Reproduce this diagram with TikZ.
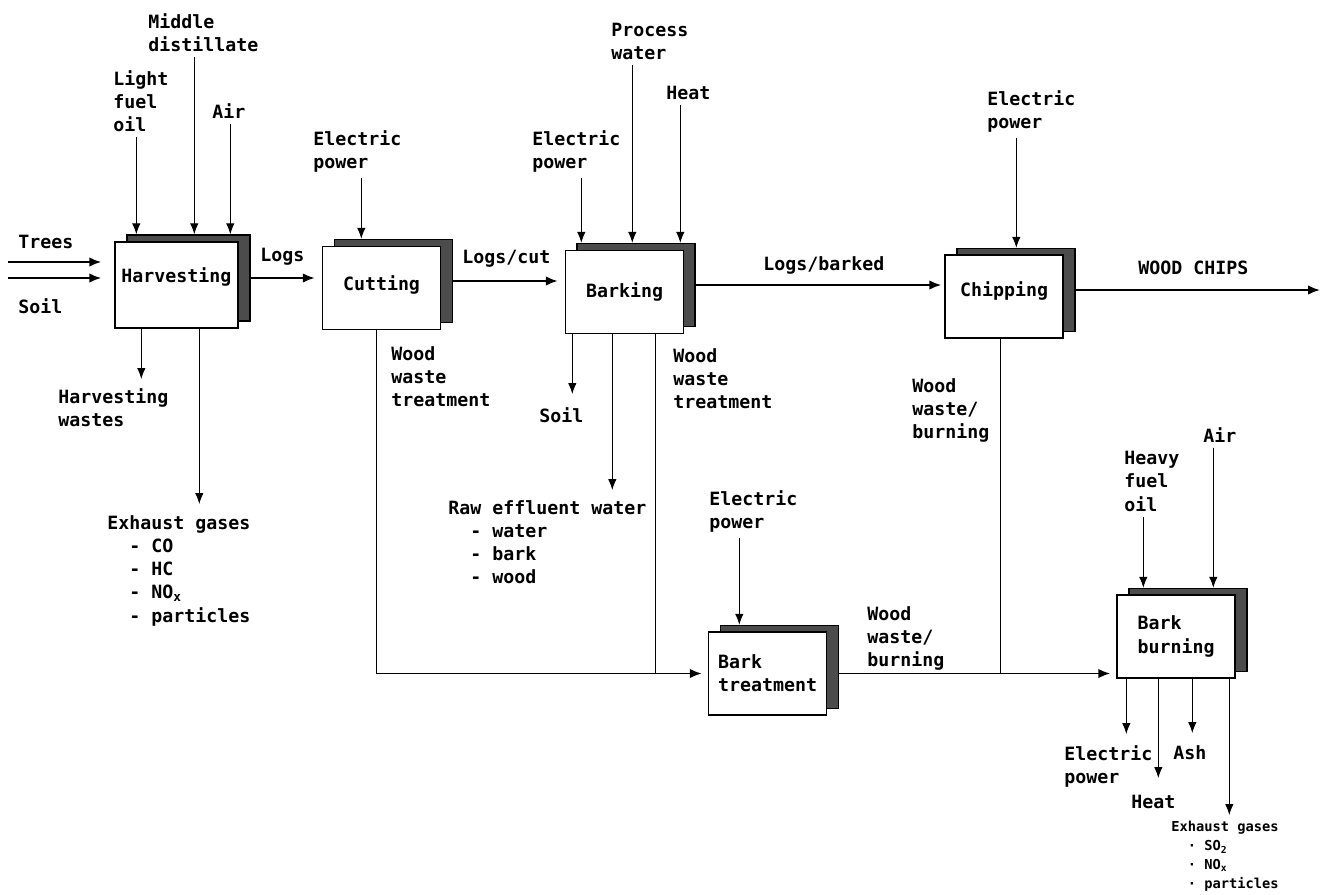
\documentclass[tikz,border=0pt]{standalone}
\usepackage{fontspec}
\newfontfamily\plotfont{DejaVu Sans Mono}
\usetikzlibrary{arrows.meta,calc}

\begin{document}
\begin{tikzpicture}[
  x=0.02cm, y=-0.02cm,
  font=\plotfont\bfseries\fontsize{10.4}{13.2}\selectfont,
  proc/.style={draw, line width=0.8pt, fill=white, minimum width=2.36cm, minimum height=1.66cm, inner sep=1pt, align=left},
  sheet/.style={draw, line width=0.8pt, fill=black!70, minimum width=2.36cm, minimum height=1.66cm, inner sep=0pt},
  lbl/.style={inner sep=0pt, align=left, anchor=north west},
  tinylbl/.style={lbl, font=\plotfont\bfseries\fontsize{7.8}{10.8}\selectfont},
  arr/.style={-{Latex[length=2.2mm, width=1.7mm]}, line width=0.55pt},
  flow/.style={-{Latex[length=2.4mm, width=1.9mm]}, line width=1.1pt},
  wire/.style={line width=0.8pt}
]
\useasboundingbox (0,0) rectangle (1322,894);

% process boxes, back sheet first
\node[sheet, minimum width=2.46cm, minimum height=1.72cm] (harv-b) at (188.5,278) {};
\node[proc, minimum width=2.46cm, minimum height=1.72cm, text depth=0.41cm] (harv) at (176.5,285) {Harvesting};
\node[sheet] (cut-b) at (393.5,281) {};
\node[proc, text depth=0.21cm] (cut) at (381.5,288) {Cutting};
\node[sheet] (bark-b) at (636,285) {};
\node[proc] (bark) at (624.5,292) {Barking};
\node[sheet] (chip-b) at (1016,290) {};
\node[proc, text depth=0.31cm] (chip) at (1004,296.5) {Chipping};
\node[sheet] (bt-b) at (779.5,667) {};
\node[proc] (bt) at (767.5,673.5) {Bark\\treatment};
\node[sheet] (bb-b) at (1188,630) {};
\node[proc] (bb) at (1176,636.5) {Bark\\burning};

% labels
\node[lbl] (trees) at (18,235) {Trees};
\node[lbl] (soilin) at (18,298) {Soil};
\node[lbl] (lfo) at (113,70) {Light\\fuel\\oil};
\node[lbl] (md) at (148,13) {Middle\\distillate};
\node[lbl] (airh) at (212,103) {Air};
\node[lbl] (logs) at (260,248) {Logs};
\node[lbl] (epcut) at (313,130) {Electric\\power};
\node[lbl] (logscut) at (462,250) {Logs/cut};
\node[lbl] (epbark) at (532,130) {Electric\\power};
\node[lbl] (pw) at (611,23) {Process\\water};
\node[lbl] (heatb) at (666,86) {Heat};
\node[lbl] (logsbarked) at (763,256) {Logs/barked};
\node[lbl] (epchip) at (987,90) {Electric\\power};
\node[lbl] (chips) at (1138,261) {WOOD CHIPS};
\node[lbl] (hw) at (58,388) {Harvesting\\wastes};
\node[lbl] (exh) at (107,515) {Exhaust gases\\\phantom{xx}- CO\\\phantom{xx}- HC\\\phantom{xx}- NO\textsubscript{x}\\\phantom{xx}- particles};
\node[lbl] (wwtcut) at (391,346) {Wood\\waste\\treatment};
\node[lbl] (soilout) at (539,407) {Soil};
\node[lbl] (raw) at (448,500) {Raw effluent water\\\phantom{xx}- water\\\phantom{xx}- bark\\\phantom{xx}- wood};
\node[lbl] (wwtbark) at (673,348) {Wood\\waste\\treatment};
\node[lbl] (wwbchip) at (912,378) {Wood\\waste/\\burning};
\node[lbl] (epbt) at (709,490) {Electric\\power};
\node[lbl] (wwbbt) at (867,606) {Wood\\waste/\\burning};
\node[lbl] (hfo) at (1124,451) {Heavy\\fuel\\oil};
\node[lbl] (airb) at (1203,427) {Air};
\node[lbl] (epout) at (1064,745) {Electric\\power};
\node[lbl] (ash) at (1173,745) {Ash};
\node[lbl] (heatout) at (1131,795) {Heat};
\node[tinylbl] (exhb) at (1171,821) {Exhaust gases\\\phantom{xx}· SO\textsubscript{2}\\\phantom{xx}· NO\textsubscript{x}\\\phantom{xx}· particles};

% entry and exit points
\coordinate (harv-i1) at ($(harv-b.north west)+(10,0)$);
\coordinate (harv-i2) at ($(harv-b.north west)+(68,0)$);
\coordinate (harv-i3) at ($(harv-b.north west)+(104,0)$);
\coordinate (cut-i) at ($(cut-b.north west)+(27.5,0)$);
\coordinate (bark-i1) at ($(bark-b.north west)+(5,0)$);
\coordinate (bark-i2) at ($(bark-b.north west)+(56,0)$);
\coordinate (bark-i3) at ($(bark-b.north west)+(104,0)$);
\coordinate (chip-i) at ($(chip-b.north west)+(60,0)$);
\coordinate (bt-i) at ($(bt-b.north west)+(19.5,0)$);
\coordinate (bb-i1) at ($(bb-b.north west)+(15,0)$);
\coordinate (bb-i2) at ($(bb-b.north west)+(85,0)$);
\coordinate (harv-o1) at ($(harv.south west)+(27,0)$);
\coordinate (harv-o2) at ($(harv.south west)+(85,0)$);
\coordinate (cut-o) at ($(cut.south west)+(54.5,0)$);
\coordinate (bark-o1) at ($(bark.south west)+(7.5,0)$);
\coordinate (bark-o2) at ($(bark.south west)+(47.5,0)$);
\coordinate (bark-o3) at ($(bark.south west)+(90.5,0)$);
\coordinate (chip-o) at ($(chip.south west)+(56,0)$);
\coordinate (bb-o1) at ($(bb.south west)+(10,0)$);
\coordinate (bb-o2) at ($(bb.south west)+(42,0)$);
\coordinate (bb-o3) at ($(bb.south west)+(76,0)$);
\coordinate (bb-o4) at ($(bb.south west)+(113,0)$);
\coordinate (trees-s) at (8,262);
\coordinate (soil-s) at (8,278);
\coordinate (chips-e) at (1320,290);

% inputs
\draw[arr, shorten <=0.1cm] (lfo.south -| harv-i1) -- (harv-i1);
\draw[arr, shorten <=0.1cm] (md.south -| harv-i2) -- (harv-i2);
\draw[arr, shorten <=0.1cm] (airh.south -| harv-i3) -- (harv-i3);
\draw[arr, shorten <=0.1cm] (epcut.south -| cut-i) -- (cut-i);
\draw[arr, shorten <=0.1cm] (epbark.south -| bark-i1) -- (bark-i1);
\draw[arr, shorten <=0.1cm] (pw.south -| bark-i2) -- (bark-i2);
\draw[arr, shorten <=0.1cm] (heatb.south -| bark-i3) -- (bark-i3);
\draw[arr, shorten <=0.1cm] (epchip.south -| chip-i) -- (chip-i);
\draw[arr, shorten <=0.1cm] (epbt.south -| bt-i) -- (bt-i);
\draw[arr, shorten <=0.1cm] (hfo.south -| bb-i1) -- (bb-i1);
\draw[arr, shorten <=0.1cm] (airb.south -| bb-i2) -- (bb-i2);

% outputs
\draw[arr, shorten >=0.18cm] (harv-o1) -- (harv-o1 |- hw.north);
\draw[arr, shorten >=0.22cm] (harv-o2) -- (harv-o2 |- exh.north);
\draw[arr, shorten >=0.26cm] (bark-o1) -- (bark-o1 |- soilout.north);
\draw[arr, shorten >=0.2cm] (bark-o2) -- (bark-o2 |- raw.north);
\draw[arr, shorten >=0.22cm] (bb-o1) -- (bb-o1 |- epout.north);
\draw[arr, shorten >=0.34cm] (bb-o2) -- (bb-o2 |- heatout.north);
\draw[arr, shorten >=0.24cm] (bb-o3) -- (bb-o3 |- ash.north);
\draw[arr, shorten >=0.12cm] (bb-o4) -- (bb-o4 |- exhb.north);

% main flow
\draw[flow, shorten >=0.26cm] (trees-s) -- (trees-s -| harv.west);
\draw[flow, shorten >=0.26cm] (soil-s) -- (soil-s -| harv.west);
\draw[flow, shorten >=0.14cm] (harv-b.east) -- (harv-b.east -| cut.west);
\draw[flow, shorten >=0.14cm] (cut-b.east) -- (cut-b.east -| bark.west);
\draw[flow, shorten >=0.06cm] (bark-b.east) -- (bark-b.east -| chip.west);
\draw[flow] (chip-b.east) -- (chip-b.east -| chips-e);

% wood waste
\draw[wire] (cut-o) -- (cut-o |- bt.west);
\draw[flow, shorten >=0.12cm] (cut-o |- bt.west) -- (bt.west);
\draw[wire] (bark-o3) -- (bark-o3 |- bt.west);
\draw[wire] (chip-o) -- (chip-o |- bt.east);
\draw[flow, shorten >=0.12cm] (bt.east -| bt-b.east) -- (bt.east -| bb.west);
\end{tikzpicture}
\end{document}
